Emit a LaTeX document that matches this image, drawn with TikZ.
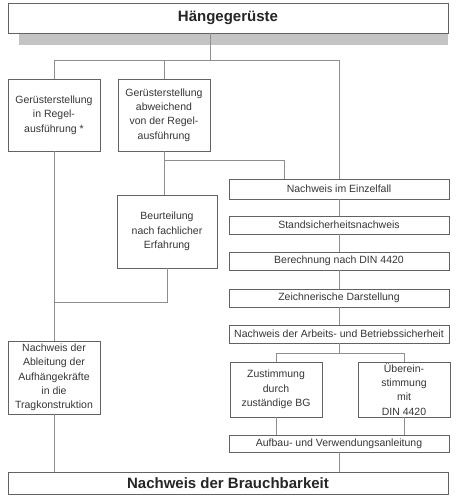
\documentclass[tikz,border=0pt]{standalone}
\usepackage{fontspec}
\setmainfont{Liberation Sans}
\definecolor{txt}{HTML}{363636}
\definecolor{ln}{HTML}{8E8E8E}
\definecolor{bd}{HTML}{626262}
\definecolor{shd}{HTML}{C4C4C4}
\begin{document}
\begin{tikzpicture}[x=1pt,y=-1pt,
  box/.style={draw=bd, line width=0.7pt, fill=white, inner sep=1pt, align=center,
    text=txt, font=\fontsize{10.5}{14.3}\selectfont},
  head/.style={box, font=\fontsize{15}{18}\selectfont\bfseries, text=black!85},
  conn/.style={draw=ln, line width=0.6pt}]
\useasboundingbox (0,0) rectangle (456,500);
\fill[shd] (19,33) rectangle (448,45);
\node[head, minimum width=440, minimum height=30] (top) at (228,18) {Hängegerüste};
\node[box, minimum width=92, minimum height=72] (A) at (54,115) {Gerüsterstellung\\in Regel-\\ausführung *};
\node[box, minimum width=92, minimum height=72] (B) at (164,115) {Gerüsterstellung\\abweichend\\von der Regel-\\ausführung};
\node[box, minimum width=100, minimum height=73] (C) at (167,231.5) {Beurteilung\\nach fachlicher\\Erfahrung};
\node[box, minimum width=92, minimum height=73] (D) at (54,377.5) {Nachweis der\\Ableitung der\\Aufhängekräfte\\in die\\Tragkonstruktion};
\node[box, minimum width=220, minimum height=20] (E1) at (339,189) {Nachweis im Einzelfall};
\node[box, minimum width=220, minimum height=18] (E2) at (339,225) {Standsicherheitsnachweis};
\node[box, minimum width=220, minimum height=18] (E3) at (339,261) {Berechnung nach DIN 4420};
\node[box, minimum width=220, minimum height=18] (E4) at (339,298) {Zeichnerische Darstellung};
\node[box, minimum width=220, minimum height=18] (E5) at (339,334) {Nachweis der Arbeits- und Betriebssicherheit};
\node[box, minimum width=92, minimum height=55] (F1) at (276,389.5) {Zustimmung\\durch\\zuständige BG};
\node[box, minimum width=92, minimum height=55] (F2) at (404,389.5) {Überein-\\stimmung\\mit\\DIN 4420};
\node[box, minimum width=220, minimum height=17] (G) at (339,443.5) {Aufbau- und Verwendungsanleitung};
\node[head, minimum width=440, minimum height=22] (H) at (228,483) {Nachweis der Brauchbarkeit};
\coordinate (j0) at (210,60);
\coordinate (j1) at (284,160);
\coordinate (j2) at (0,302);
\coordinate (j3) at (339,353);
\path[conn] (top.south -| j0) -- (j0);
\path[conn] (A.north) |- (E1.north |- j0) -- (E1.north);
\path[conn] (B.north) -- (B.north |- j0);
\path[conn] (B.south) -- (B.south |- C.north);
\path[conn] (B.south |- j1) -- (j1) -- (j1 |- E1.north);
\path[conn] (C.south) |- (A.south |- j2);
\path[conn] (A.south) -- (D.north);
\path[conn] (D.south) -- (D.south |- H.north);
\path[conn] (E1.south) -- (E2.north);
\path[conn] (E2.south) -- (E3.north);
\path[conn] (E3.south) -- (E4.north);
\path[conn] (E4.south) -- (E5.north);
\path[conn] (E5.south) -- (j3);
\path[conn] (F1.north) |- (F2.north |- j3) -- (F2.north);
\path[conn] (F1.south) -- (F1.south |- G.north);
\path[conn] (F2.south) -- (F2.south |- G.north);
\path[conn] (G.south) -- (G.south |- H.north);
\end{tikzpicture}
\end{document}
